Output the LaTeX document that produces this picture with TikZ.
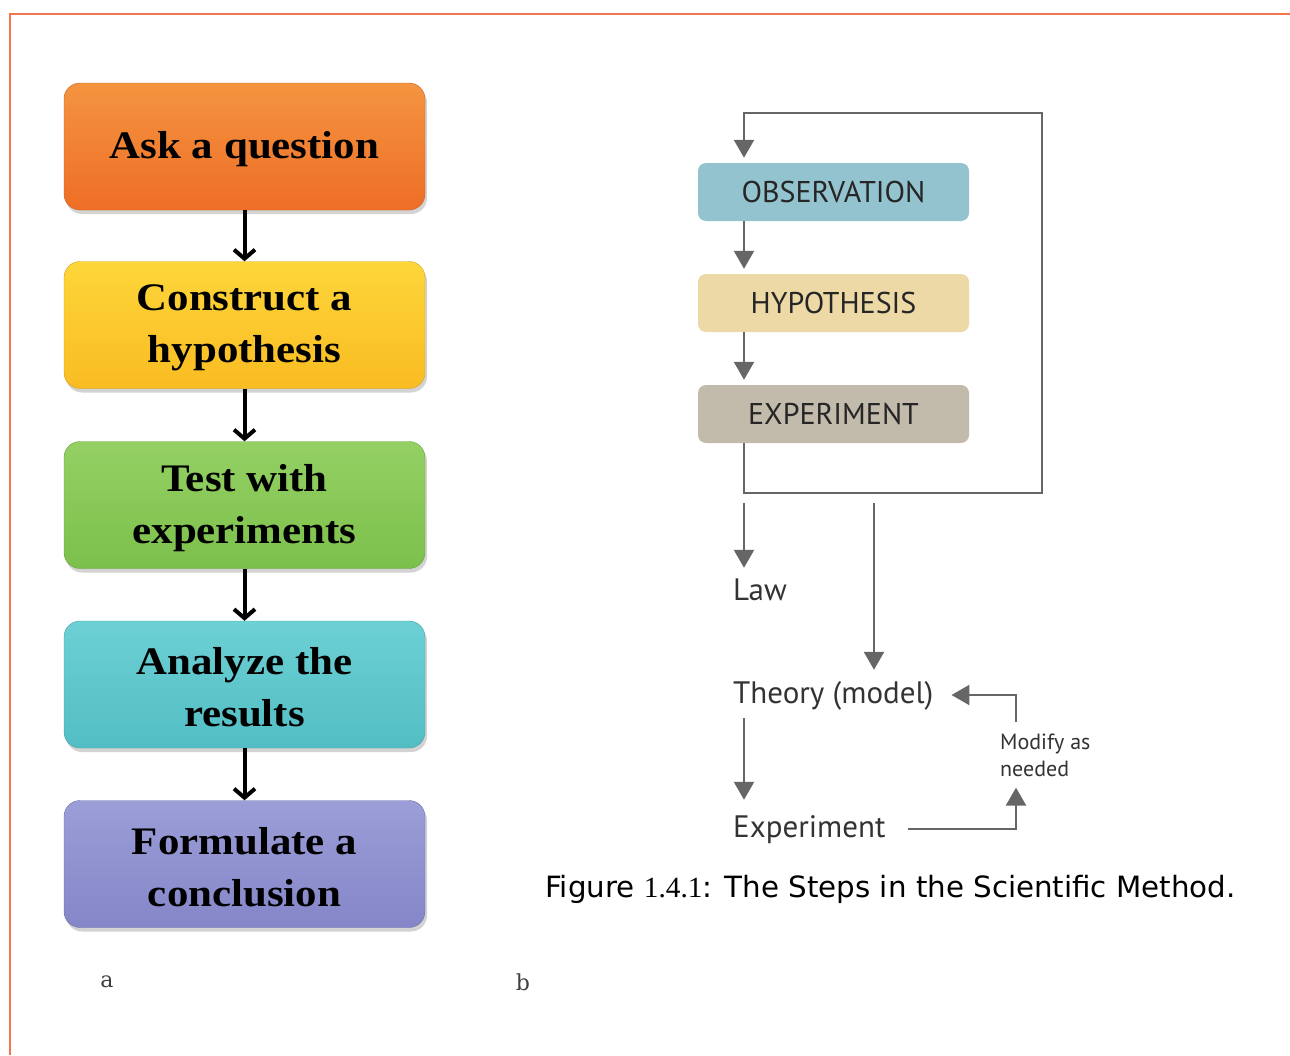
\documentclass[tikz,border=0pt]{standalone}
\usepackage{fontspec}
\setmainfont{Liberation Serif}
\newfontfamily\boxfont{Liberation Serif}[FakeStretch=1.1]
\newfontfamily\rfont{PT Sans}
\newfontfamily\capfont{DejaVu Sans}
\newfontfamily\numfont{Liberation Serif}
\newfontfamily\labfont{DejaVu Serif}
\usetikzlibrary{arrows.meta,shadows}
\newcommand\lowr[1]{\raisebox{-3pt}[\height][\depth]{#1}}
\definecolor{framec}{HTML}{F2754F}
\definecolor{orTop}{HTML}{F49440}
\definecolor{orBot}{HTML}{EE6E26}
\definecolor{yeTop}{HTML}{FDD63A}
\definecolor{yeBot}{HTML}{F9BC22}
\definecolor{grTop}{HTML}{94D064}
\definecolor{grBot}{HTML}{7CC04C}
\definecolor{tlTop}{HTML}{6CD0D4}
\definecolor{tlBot}{HTML}{52BEC4}
\definecolor{puTop}{HTML}{9C9ED8}
\definecolor{puBot}{HTML}{8486C8}
\definecolor{obsC}{HTML}{93C3CE}
\definecolor{hypC}{HTML}{ECD9A6}
\definecolor{expC}{HTML}{C2BAAA}
\definecolor{lineG}{HTML}{666666}
\begin{document}
\begin{tikzpicture}[x=1pt,y=-1pt,
  stepbox/.style={rectangle, rounded corners=16pt, minimum width=361pt, minimum height=127pt,
    align=center, inner sep=0pt, text=black,
    font=\boxfont\bfseries\fontsize{39}{52}\selectfont,
    drop shadow={shadow xshift=2pt,shadow yshift=-4pt,opacity=0.35}},
  rbox/.style={rectangle, rounded corners=8pt, minimum width=271pt, minimum height=58pt,
    inner sep=0pt, text=black!85, font=\rfont\fontsize{30}{36}\selectfont},
  rtext/.style={inner sep=0pt, text=black!80, anchor=base west, text height=22pt, text depth=6pt,
    font=\rfont\fontsize{31}{36}\selectfont},
  barrow/.style={line width=4pt, black, -{Straight Barb[length=9pt,width=21pt]}},
  garrow/.style={line width=2.4pt, lineG, -{Triangle[width=20pt,length=18pt]}},
  lab/.style={inner sep=0pt, text=black!75, font=\labfont\fontsize{22}{26}\selectfont}]
\useasboundingbox (0,0) rectangle (1290,1055);
\draw[framec, line width=2pt] (1290,14) -- (10,14) -- (10,1055);

% left flow chart
\node[stepbox, top color=orTop, bottom color=orBot, draw=orBot!85!black] (ask) at (244.5,146.5) {\lowr{Ask a question}};
\node[stepbox, top color=yeTop, bottom color=yeBot, draw=yeBot!85!black] (cons) at (244.5,325) {\lowr{Construct a}\\\lowr{hypothesis}};
\node[stepbox, top color=grTop, bottom color=grBot, draw=grBot!85!black] (test) at (244.5,505) {\lowr{Test with}\\\lowr{experiments}};
\node[stepbox, top color=tlTop, bottom color=tlBot, draw=tlBot!85!black] (anal) at (244.5,684.5) {\lowr{Analyze the}\\\lowr{results}};
\node[stepbox, top color=puTop, bottom color=puBot, draw=puBot!85!black] (form) at (244.5,864) {\lowr{Formulate a}\\\lowr{conclusion}};
\draw[barrow] (ask) -- (cons);
\draw[barrow] (cons) -- (test);
\draw[barrow] (test) -- (anal);
\draw[barrow] (anal) -- (form);

% right diagram
\node[rbox, fill=obsC] (obs) at (833.5,192) {OBSERVATION};
\node[rbox, fill=hypC] (hyp) at (833.5,303) {HYPOTHESIS};
\node[rbox, fill=expC] (exp) at (833.5,414) {EXPERIMENT};
\coordinate (lc) at (744,113);
\coordinate (rc) at (874,503);
\coordinate (tr) at (1042,113);
\coordinate (br) at (1042,493);
\coordinate (mc) at (1016,692);
\draw[garrow] (exp.south -| lc) |- (br) -- (tr) -- (lc) -- ([yshift=5pt]obs.north -| lc);
\draw[garrow] (obs.south -| lc) -- ([yshift=5pt]hyp.north -| lc);
\draw[garrow] (hyp.south -| lc) -- ([yshift=5pt]exp.north -| lc);

\node[rtext] (law) at (733,600) {Law};
\node[rtext] (theory) at (733,703) {Theory (model)};
\node[rtext] (exp2) at (733,837) {Experiment};
\node[inner sep=0pt, anchor=west, align=left, text=black!80, font=\rfont\fontsize{22}{27}\selectfont] (mod) at (1000,755) {Modify as\\needed};

\draw[garrow] ([yshift=-10pt]br -| lc) -- ([yshift=10pt]law.north -| lc);
\draw[garrow] (rc) -- ([yshift=11pt]theory.north -| rc);
\draw[garrow] ([yshift=-9pt]theory.south -| lc) -- ([yshift=15pt]exp2.north -| lc);
\draw[garrow] ([xshift=22pt]exp2.east) -| ([yshift=-11pt]mod.south -| mc);
\draw[garrow] ([yshift=11pt]mod.north -| mc) |- ([xshift=18pt]theory.east);

\node[inner sep=0pt, anchor=base west, text=black, font=\capfont\fontsize{29.3}{34}\selectfont] (cap) at (545,897)
  {Figure {\numfont 1.4.1}: The Steps in the Scientific Method.};

\node[lab] (la) at (107,982) {a};
\node[lab] (lb) at (523,982) {b};
\end{tikzpicture}
\end{document}
